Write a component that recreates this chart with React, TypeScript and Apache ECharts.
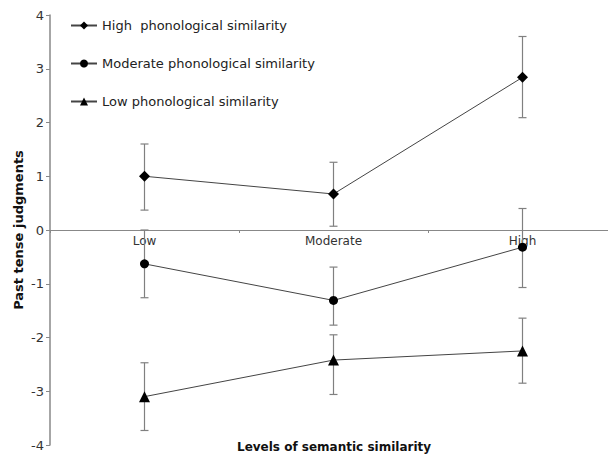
import React, { useEffect, useRef } from "react";
import * as echarts from "echarts";

const categories = ["Low", "Moderate", "High"];
const seriesNames = [
  "High  phonological similarity",
  "Moderate phonological similarity",
  "Low phonological similarity",
];
const highMeans = [1.0, 0.67, 2.84];
const highLower = [0.37, 0.07, 2.09];
const highUpper = [1.6, 1.26, 3.6];
const modMeans = [-0.63, -1.31, -0.32];
const modLower = [-1.26, -1.77, -1.07];
const modUpper = [0.0, -0.69, 0.4];
const lowMeans = [-3.1, -2.42, -2.25];
const lowLower = [-3.73, -3.06, -2.85];
const lowUpper = [-2.47, -1.95, -1.64];
const yTicks = [-4, -3, -2, -1, 0, 1, 2, 3, 4];

const FONT = "DejaVu Sans";

function errData(lo: number[], hi: number[]) {
  return lo.map((l, i) => [i, l, hi[i]]);
}

export default function App() {
  const ref = useRef<HTMLDivElement>(null);
  useEffect(() => {
    if (!ref.current) return;
    const chart = echarts.init(ref.current, undefined, { renderer: "svg" });
    const errorSeries = (lo: number[], hi: number[]) => ({
      type: "custom",
      z: 1,
      silent: true,
      data: errData(lo, hi),
      encode: { x: 0, y: [1, 2] },
      renderItem: (params: any, api: any) => {
        const x = api.value(0);
        const a = api.coord([x, api.value(1)]);
        const b = api.coord([x, api.value(2)]);
        const w = 4;
        const st = { stroke: "#808080", lineWidth: 1.2 };
        return {
          type: "group",
          children: [
            { type: "line", shape: { x1: a[0], y1: a[1], x2: b[0], y2: b[1] }, style: st },
            { type: "line", shape: { x1: a[0] - w, y1: a[1], x2: a[0] + w, y2: a[1] }, style: st },
            { type: "line", shape: { x1: b[0] - w, y1: b[1], x2: b[0] + w, y2: b[1] }, style: st },
          ],
        };
      },
    });
    const lineSeries = (name: string, data: number[], symbol: string, size: number) => ({
      type: "line",
      name,
      data,
      z: 3,
      symbol,
      symbolSize: size,
      showAllSymbol: true,
      lineStyle: { color: "#444", width: 1 },
      itemStyle: { color: "#000" },
    });
    chart.setOption({
      animation: false,
      backgroundColor: "#fff",
      textStyle: { fontFamily: FONT },
      legend: {
        orient: "vertical",
        left: 65,
        top: 14,
        itemGap: 25,
        itemWidth: 26,
        itemHeight: 10,
        data: seriesNames,
        textStyle: { fontFamily: FONT, fontSize: 13, color: "#222" },
      },
      grid: { left: 50, width: 567, top: 15, bottom: 12, outerBoundsMode: "none", containLabel: false },
      xAxis: {
        type: "category",
        data: categories,
        boundaryGap: true,
        offset: -215,
        axisLine: { onZero: false, lineStyle: { color: "#888", width: 1.2 } },
        axisTick: { show: true, length: 3, inside: false, lineStyle: { color: "#888" } },
        axisLabel: { fontFamily: FONT, fontSize: 12, color: "#333", margin: 5 },
        splitLine: { show: false },
      },
      yAxis: {
        type: "value",
        min: -4,
        max: 4,
        interval: 1,
        name: "Past tense judgments",
        nameLocation: "middle",
        nameGap: 25,
        nameMoveOverlap: false,
        nameTextStyle: { fontFamily: FONT, fontSize: 13, fontWeight: "bold", color: "#111" },
        axisLine: { show: true, lineStyle: { color: "#888", width: 1.5 } },
        axisTick: { show: true, length: 4, lineStyle: { color: "#888" } },
        axisLabel: {
          fontFamily: FONT,
          fontSize: 13,
          color: "#333",
          margin: 6,
          formatter: (v: number) => (yTicks.includes(v) ? String(v) : ""),
        },
        splitLine: { show: false },
      },
      graphic: [
        {
          type: "text",
          left: 237,
          top: 441,
          style: {
            text: "Levels of semantic similarity",
            fontFamily: FONT,
            fontSize: 12,
            fontWeight: "bold",
            fill: "#111",
          },
        },
      ],
      series: [
        errorSeries(highLower, highUpper),
        errorSeries(modLower, modUpper),
        errorSeries(lowLower, lowUpper),
        lineSeries(seriesNames[0], highMeans, "diamond", 11),
        lineSeries(seriesNames[1], modMeans, "circle", 9),
        lineSeries(seriesNames[2], lowMeans, "triangle", 11),
      ],
    });
    return () => chart.dispose();
  }, []);
  return (
    <div
      ref={ref}
      style={{ position: "absolute", left: 0, top: 0, width: 608, height: 457 }}
    />
  );
}
